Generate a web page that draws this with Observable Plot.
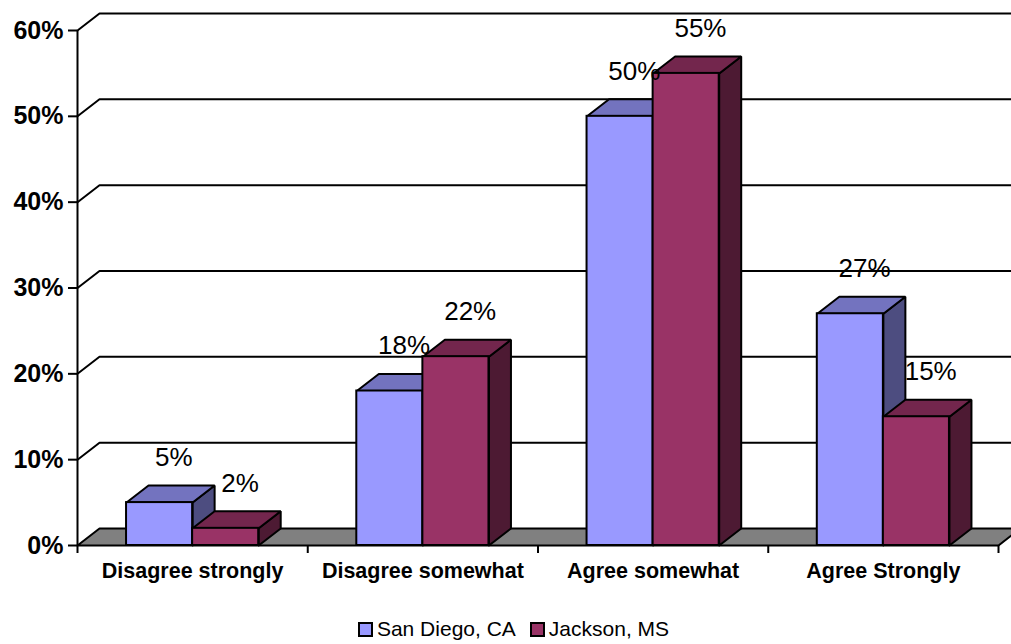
<!DOCTYPE html>
<html><head><meta charset="utf-8">
<script src="https://cdn.jsdelivr.net/npm/d3@7"></script>
<script src="https://cdn.jsdelivr.net/npm/@observablehq/plot@0.6"></script>
<style>
html,body{margin:0;padding:0;background:#fff;overflow:hidden;}
#legend{display:flex;justify-content:center;align-items:center;font:21px Arial,"Liberation Sans",sans-serif;margin-top:27px;padding-left:16px;line-height:24px;}
#legend .item{display:flex;align-items:center;margin:0 7px;}
#legend .sw{display:inline-block;width:11px;height:11px;border:2px solid #000;margin-right:4px;}
</style></head><body>
<div id="chart"></div>
<div id="legend"></div>
<script>
const categories = ["Disagree strongly", "Disagree somewhat", "Agree somewhat", "Agree Strongly"];
const seriesNames = ["San Diego, CA", "Jackson, MS"];
const sanDiego = [0.05, 0.18, 0.50, 0.27];
const jackson = [0.02, 0.22, 0.55, 0.15];
const yTicks = [0, 0.1, 0.2, 0.3, 0.4, 0.5, 0.6];
const frontColors = ["#9999FF", "#993366"];
const topColors = ["#7373BF", "#73264D"];
const sideColors = ["#4D4D80", "#4D1A33"];

const W = 1011, H = 590, ML = 77, MR = 13, MT = 30, MB = 45;
const xUnit = (W - ML - MR) / categories.length;
const yUnit = (H - MT - MB) / 0.6;
const dX = 22 / xUnit, dY = 17 / yUnit;
const barW = 0.287, barStart = 0.213;
const fmt = d3.format(".0%");

const series = [sanDiego, jackson];
const bars = [];
series.forEach((vals, s) => vals.forEach((v, i) => {
  const x1 = i + barStart + s * barW;
  bars.push({i, s, v, x1, x2: x1 + barW});
}));

function poly(b, kind) {
  const {x1, x2, v} = b;
  const id = kind + b.s + "_" + b.i;
  const pts = kind === "top"
    ? [[x1, v], [x2, v], [x2 + dX, v + dY], [x1 + dX, v + dY], [x1, v]]
    : [[x2, 0], [x2, v], [x2 + dX, v + dY], [x2 + dX, dY], [x2, 0]];
  return pts.map(([x, y]) => ({x, y, id}));
}

const grid = yTicks.filter(v => v > 0).flatMap(v => [
  {x: 0, y: v, id: v}, {x: dX, y: v + dY, id: v}, {x: categories.length + dX + 0.2, y: v + dY, id: v}
]);
const floor = [[0, 0], [categories.length, 0], [categories.length + dX, dY], [dX, dY], [0, 0]].map(([x, y]) => ({x, y}));

const barMarks = [0, 1].flatMap(s => {
  const bs = bars.filter(b => b.s === s);
  return [
    Plot.line(bs.flatMap(b => poly(b, "side")), {x: "x", y: "y", z: "id", fill: sideColors[s], stroke: "#000", strokeWidth: 2, strokeLinejoin: "miter"}),
    Plot.line(bs.flatMap(b => poly(b, "top")), {x: "x", y: "y", z: "id", fill: topColors[s], stroke: "#000", strokeWidth: 2, strokeLinejoin: "miter"}),
    Plot.rect(bs, {x1: "x1", x2: "x2", y1: () => 0, y2: "v", fill: frontColors[s], stroke: "#000", strokeWidth: 2})
  ];
});

const chart = Plot.plot({
  width: W, height: H,
  marginLeft: ML, marginRight: MR, marginTop: MT, marginBottom: MB,
  style: {fontFamily: "Arial, 'Liberation Sans', sans-serif", color: "#000", background: "#fff", overflow: "visible"},
  x: {domain: [0, categories.length]},
  y: {domain: [0, 0.6]},
  marks: [
    Plot.line(grid, {x: "x", y: "y", z: "id", stroke: "#000", strokeWidth: 2}),
    Plot.line(floor, {x: "x", y: "y", fill: "#808080", stroke: "#000", strokeWidth: 2}),
    Plot.ruleX([0], {y1: () => 0, y2: () => 0.6, stroke: "#000", strokeWidth: 2}),
    ...barMarks,
    Plot.text(bars, {x: d => (d.x1 + d.x2) / 2 + dX * 0.65, y: "v", text: d => fmt(d.v), dy: -45, fontSize: 26, fill: "#000"}),
    Plot.axisY(yTicks, {tickFormat: fmt, tickSize: 9, tickPadding: 5, fontSize: 25, fontWeight: "bold", strokeWidth: 2, label: null}),
    Plot.axisX(d3.range(categories.length + 1), {tickFormat: () => "", tickSize: 8, strokeWidth: 2, label: null}),
    Plot.axisX(categories.map((c, i) => i + 0.5), {tickFormat: d => categories[Math.floor(d)], tickSize: 0, tickPadding: 17, fontSize: 21.5, fontWeight: "bold", label: null})
  ]
});
document.getElementById("chart").appendChild(chart);

const legend = document.getElementById("legend");
seriesNames.forEach((name, s) => {
  const item = document.createElement("span");
  item.className = "item";
  const sw = document.createElement("span");
  sw.className = "sw";
  sw.style.background = frontColors[s];
  item.appendChild(sw);
  item.appendChild(document.createTextNode(name));
  legend.appendChild(item);
});
</script>
</body></html>
